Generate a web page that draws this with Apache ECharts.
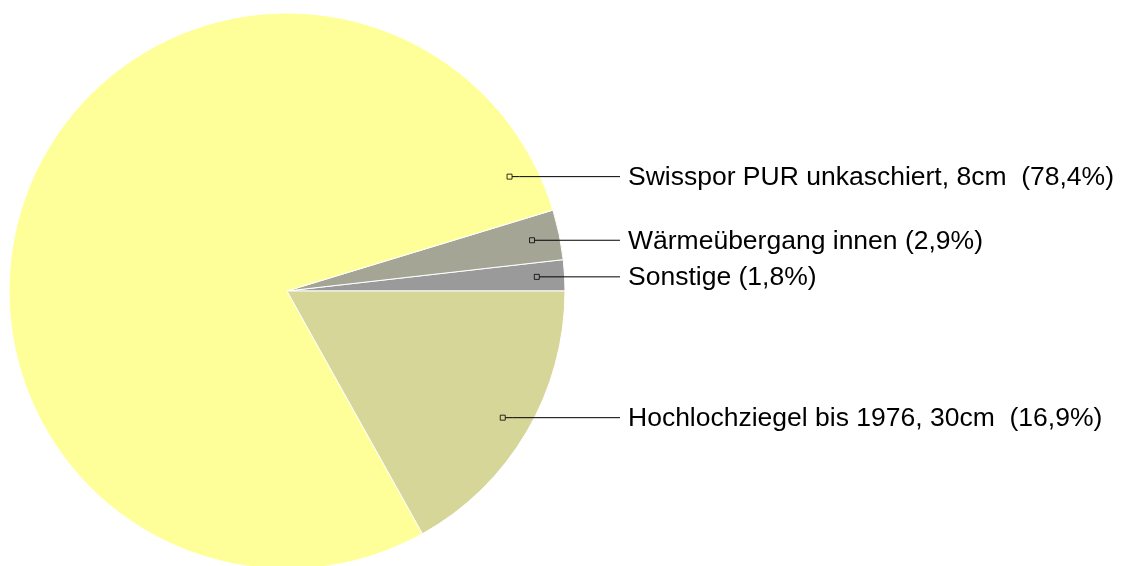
<!DOCTYPE html>
<html>
<head>
<meta charset="utf-8">
<script src="https://cdn.jsdelivr.net/npm/echarts@6/dist/echarts.min.js"></script>
<style>
  html, body { margin: 0; padding: 0; background: #fff; }
  #main { width: 1121px; height: 566px; }
</style>
</head>
<body>
<div id="main"></div>
<script>
// slices, counter-clockwise from 3 o'clock
const names = [
    'Sonstige',
    'Wärmeübergang innen',
    'Swisspor PUR unkaschiert, 8cm ',
    'Hochlochziegel bis 1976, 30cm '
];
const shares = [1.8, 2.9, 78.4, 16.9];
const colors = ['#9a9a9a', '#a5a595', '#ffff99', '#d6d699'];

const chartDom = document.getElementById('main');
const myChart = echarts.init(chartDom);

const pieCenter = [287, 291];
const pieRadius = 278;
const markerRadius = 0.9;      // marker ring, fraction of radius
const bigSliceAnchor = 27.2;   // the big slice has its marker on the right side
const total = shares.reduce((a, b) => a + b, 0);

// angle of the marker of every slice (degrees, ccw from 3 o'clock)
let acc = 0;
const anchorAngles = shares.map(function (v, i) {
    const mid = (acc + v / 2) / total * 360;
    acc += v;
    return v / total > 0.5 ? bigSliceAnchor : mid;
});

function anchorPoint(i) {
    const a = anchorAngles[i] * Math.PI / 180;
    const r = pieRadius * markerRadius;
    return [pieCenter[0] + r * Math.cos(a), pieCenter[1] - r * Math.sin(a)];
}

const pieData = names.map(function (n, i) {
    return { name: n, value: shares[i], itemStyle: { color: colors[i] } };
});

const pieBase = {
    type: 'pie',
    center: pieCenter,
    radius: pieRadius,
    startAngle: 0,
    clockwise: false,
    avoidLabelOverlap: false,
    emphasis: { disabled: true },
    silent: true
};

let option = {
    animation: false,
    polar: { center: pieCenter, radius: pieRadius },
    angleAxis: { type: 'value', min: 0, max: 360, startAngle: 0, clockwise: false, show: false },
    radiusAxis: { type: 'value', min: 0, max: 1, show: false },
    series: [
        Object.assign({}, pieBase, {
            itemStyle: { borderColor: '#fff', borderWidth: 1 },
            label: { show: false },
            labelLine: { show: false },
            data: pieData
        }),
        // transparent copy on top, only for labels and their lines
        Object.assign({}, pieBase, {
            z: 4,
            itemStyle: { color: 'rgba(0,0,0,0)', borderWidth: 0 },
            label: {
                show: true,
                color: '#000',
                fontSize: 26.5,
                fontFamily: 'Arial, "Liberation Sans", sans-serif',
                formatter: function (p) {
                    return p.name + ' (' + p.value.toFixed(1).replace('.', ',') + '%)';
                }
            },
            labelLine: { show: true, lineStyle: { color: '#000', width: 1 } },
            labelLayout: function (params) {
                const pt = anchorPoint(params.dataIndex);
                const endX = pieCenter[0] + pieRadius + 55;
                return {
                    x: endX + 8,
                    y: pt[1] + 1,
                    align: 'left',
                    verticalAlign: 'middle',
                    labelLinePoints: [[pt[0] + 2.5, pt[1]], [pt[0] + 10, pt[1]], [endX, pt[1]]]
                };
            },
            data: names.map(function (n, i) {
                return { name: n, value: shares[i] };
            })
        }),
        {
            type: 'scatter',
            coordinateSystem: 'polar',
            symbol: 'rect',
            symbolSize: 5,
            z: 5,
            silent: true,
            data: anchorAngles.map(function (a, i) {
                return {
                    value: [markerRadius, a],
                    itemStyle: { color: colors[i], borderColor: '#000', borderWidth: 1 }
                };
            })
        }
    ]
};

option && myChart.setOption(option);
</script>
</body>
</html>
